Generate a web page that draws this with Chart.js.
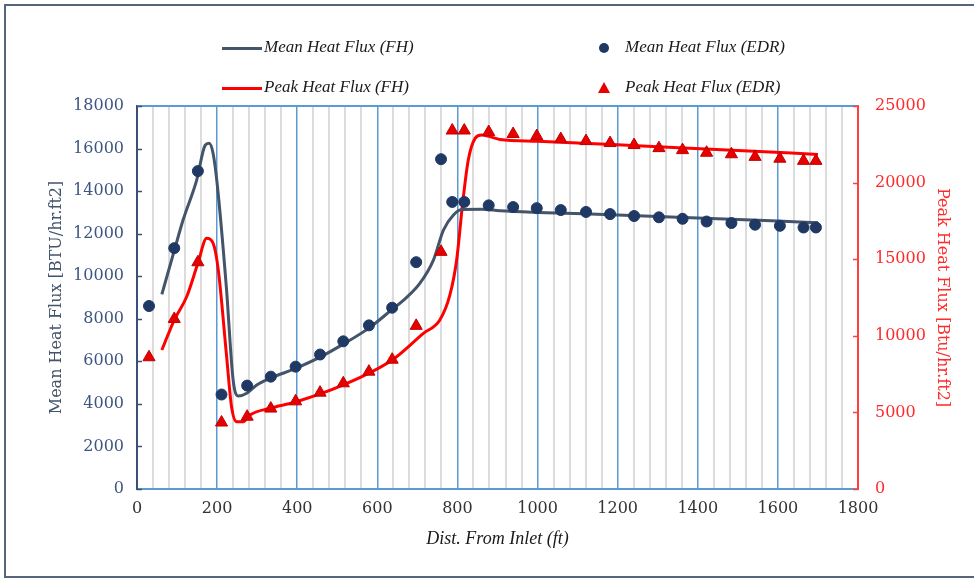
<!DOCTYPE html>
<html>
<head>
<meta charset="utf-8">
<script src="https://cdn.jsdelivr.net/npm/chart.js@4.4.1/dist/chart.umd.min.js"></script>
<style>
  html, body { margin: 0; padding: 0; background: #fff; overflow: hidden; }
  #wrap { position: relative; width: 974px; height: 580px; }
  #frame { position: absolute; left: 4px; top: 4px; width: 990px; height: 574px;
           border: 2px solid #56657a; box-sizing: border-box; pointer-events: none; }
  .leg { position: absolute; font: italic 17px "Liberation Serif", serif; color: #1a1a1a;
         white-space: nowrap; line-height: 20px; }
  .mk { position: absolute; }
</style>
</head>
<body>
<div id="wrap">
  <canvas id="myChart" width="974" height="580"></canvas>
  <div id="frame"></div>
  <div id="legend"></div>
</div>
<script>
// dist. from inlet (ft) of the EDR stations
const edrX = [30, 93, 152, 211, 275, 334, 396, 457, 515, 579, 637, 697, 759, 787, 817, 878,
  939, 998, 1058, 1121, 1181, 1241, 1303, 1362, 1422, 1484, 1543, 1605, 1664, 1695];
const meanEDR = [8600, 11320, 14940, 4440, 4860, 5280, 5750, 6320, 6940, 7690, 8520, 10660,
  15500, 13490, 13490, 13330, 13250, 13200, 13110, 13020, 12920, 12830, 12770, 12700,
  12570, 12500, 12420, 12370, 12290, 12290];
const peakEDR = [8600, 11100, 14800, 4340, 4720, 5250, 5720, 6290, 6900, 7660, 8440, 10650,
  15480, 23400, 23400, 23300, 23170, 23040, 22840, 22710, 22580, 22450, 22250, 22120,
  21950, 21850, 21680, 21560, 21420, 21420];

// FH curves
const meanFhX = [62, 93, 115, 149, 170, 180, 190, 200, 223, 240, 253, 274, 299, 332, 396, 457,
  515, 579, 637, 670, 706, 740, 765, 790, 811, 860, 906, 1000, 1200, 1400, 1600, 1700];
const meanFH = [9150, 11200, 12640, 14520, 16150, 16250, 15770, 14370, 9500, 5120, 4370, 4500,
  4890, 5200, 5670, 6200, 6810, 7560, 8440, 8950, 9660, 10760, 12170, 12880, 13140, 13150,
  13080, 13000, 12880, 12740, 12600, 12510];
const peakFhX = [62, 93, 124, 152, 174, 190, 203, 223, 236, 249, 265, 282, 332, 396, 515,
  637, 715, 756, 781, 798, 813, 827, 844, 860, 881, 906, 1000, 1300, 1500, 1700];
const peakFH = [9070, 11030, 12550, 14730, 16360, 16040, 14290, 8860, 5370, 4390, 4390,
  4830, 5270, 5680, 6790, 8420, 10160, 11030, 12650, 14950, 18650, 21470, 22890, 23110,
  23000, 22820, 22700, 22340, 22100, 21840];

const xTicks = [0, 200, 400, 600, 800, 1000, 1200, 1400, 1600, 1800];
const leftTicks = [0, 2000, 4000, 6000, 8000, 10000, 12000, 14000, 16000, 18000];
const rightTicks = [0, 5000, 10000, 15000, 20000, 25000];

const NAVY = "#1f3864";
const SLATE = "#44546a";
const RED = "#ff0000";
const BLUE = "#5b9bd5";
const AXIS_NAVY = "#3a4f7a";
const serif = "'DejaVu Serif', serif";

function pts(xs, ys) {
  return xs.map((x, i) => ({x, y: ys[i]}));
}

const datasets = [
  {label: "Mean Heat Flux (EDR)", data: pts(edrX, meanEDR), yAxisID: "y",
   showLine: false, pointStyle: "circle", pointRadius: 5.5, backgroundColor: NAVY,
   borderColor: NAVY, borderWidth: 1, order: 0},
  {label: "Peak Heat Flux (EDR)", data: pts(edrX, peakEDR), yAxisID: "y2",
   showLine: false, pointStyle: "triangle", pointRadius: 7, backgroundColor: "#e60000",
   borderColor: "#c00000", borderWidth: 1, order: 0},
  {label: "Mean Heat Flux (FH)", data: pts(meanFhX, meanFH), yAxisID: "y",
   showLine: true, pointRadius: 0, borderColor: SLATE, borderWidth: 3,
   cubicInterpolationMode: "monotone", order: 1},
  {label: "Peak Heat Flux (FH)", data: pts(peakFhX, peakFH), yAxisID: "y2",
   showLine: true, pointRadius: 0, borderColor: RED, borderWidth: 3,
   cubicInterpolationMode: "monotone", order: 1}
];

// blue top edge and the short inner tick marks on both value axes
const framePlugin = {
  id: "frame",
  afterDatasetsDraw(chart) {
    const {ctx, chartArea: a, scales} = chart;
    ctx.save();
    ctx.lineWidth = 2;
    ctx.strokeStyle = BLUE;
    ctx.beginPath();
    ctx.moveTo(a.left, a.top);
    ctx.lineTo(a.right, a.top);
    ctx.stroke();
    ctx.lineWidth = 1.5;
    ctx.strokeStyle = AXIS_NAVY;
    leftTicks.forEach(v => {
      const y = Math.round(scales.y.getPixelForValue(v)) + 0.5;
      ctx.beginPath(); ctx.moveTo(a.left, y); ctx.lineTo(a.left + 5, y); ctx.stroke();
    });
    ctx.strokeStyle = "#ff4040";
    rightTicks.forEach(v => {
      const y = Math.round(scales.y2.getPixelForValue(v)) + 0.5;
      ctx.beginPath(); ctx.moveTo(a.right - 5, y); ctx.lineTo(a.right, y); ctx.stroke();
    });
    ctx.restore();
  }
};

function drawLegend() {
  const box = document.getElementById("legend");
  const items = [
    {ds: datasets[2], left: 222, top: 48},
    {ds: datasets[0], left: 590, top: 48},
    {ds: datasets[3], left: 222, top: 88},
    {ds: datasets[1], left: 590, top: 88}
  ];
  items.forEach(it => {
    let mk = document.createElement("div");
    mk.className = "mk";
    if (it.ds.showLine) {
      mk.style.cssText = `left:${it.left}px;top:${it.top - 1.5}px;width:40px;height:3px;background:${it.ds.borderColor}`;
    } else if (it.ds.pointStyle === "circle") {
      mk.style.cssText = `left:${it.left + 9}px;top:${it.top - 5}px;width:10px;height:10px;border-radius:50%;background:${it.ds.backgroundColor}`;
    } else {
      mk.style.cssText = `left:${it.left + 8}px;top:${it.top - 6}px;width:0;height:0;border-left:6px solid transparent;border-right:6px solid transparent;border-bottom:11px solid ${it.ds.backgroundColor}`;
    }
    box.appendChild(mk);
    let t = document.createElement("div");
    t.className = "leg";
    t.textContent = it.ds.label;
    t.style.left = (it.ds.showLine ? it.left + 42 : it.left + 35) + "px";
    t.style.top = (it.top - 11) + "px";
    box.appendChild(t);
  });
}

new Chart(document.getElementById("myChart"), {
  type: "scatter",
  data: {datasets},
  plugins: [framePlugin],
  options: {
    responsive: false,
    animation: false,
    layout: {padding: {left: 43, right: 18, top: 106, bottom: 26}},
    plugins: {legend: {display: false}, tooltip: {enabled: false}},
    scales: {
      x: {
        type: "linear", min: 0, max: 1800,
        afterBuildTicks: axis => {
          let t = [];
          for (let v = 0; v <= 1800; v += 40) t.push({value: v});
          axis.ticks = t;
        },
        afterFit: axis => { axis.height = 65; },
        ticks: {
          autoSkip: false, maxRotation: 0, padding: 10, color: "#333333",
          font: {family: serif, size: 16},
          callback: v => xTicks.includes(v) ? String(v) : ""
        },
        grid: {
          drawTicks: false,
          color: c => c.tick && c.tick.value % 200 === 0 ? BLUE : "#dcdcdc",
          lineWidth: c => c.tick && c.tick.value % 200 === 0 ? 1.5 : 2
        },
        border: {color: BLUE, width: 2},
        title: {display: true, text: "Dist. From Inlet (ft)", color: "#1a1a1a",
                font: {family: "'Liberation Serif', serif", size: 18, style: "italic"}}
      },
      y: {
        position: "left", min: 0, max: 18000,
        afterBuildTicks: axis => { axis.ticks = leftTicks.map(v => ({value: v})); },
        afterFit: axis => { axis.width = 94; },
        ticks: {color: "#3f5580", padding: 13, font: {family: serif, size: 16},
                callback: v => String(v)},
        grid: {drawOnChartArea: false, drawTicks: false},
        border: {color: AXIS_NAVY, width: 2},
        title: {display: true, text: "Mean Heat Flux [BTU/hr.ft2]", color: "#44546a",
                font: {family: serif, size: 16}}
      },
      y2: {
        position: "right", min: 0, max: 25000,
        afterBuildTicks: axis => { axis.ticks = rightTicks.map(v => ({value: v})); },
        afterFit: axis => { axis.width = 98; },
        ticks: {color: "#ff2a2a", padding: 17, font: {family: serif, size: 16},
                callback: v => String(v)},
        grid: {drawOnChartArea: false, drawTicks: false},
        border: {color: "#ff4040", width: 2},
        title: {display: true, text: "Peak Heat Flux [Btu/hr.ft2]", color: "#ff2a2a",
                font: {family: serif, size: 16}}
      }
    }
  }
});

drawLegend();
</script>
</body>
</html>
